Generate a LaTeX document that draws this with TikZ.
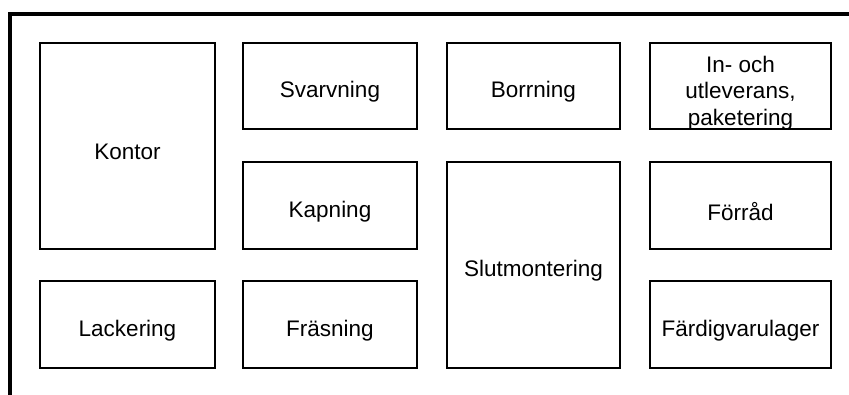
\documentclass[tikz,border=0pt]{standalone}
\usepackage{fontspec}
\setmainfont{Liberation Sans}
\begin{document}
\begin{tikzpicture}[x=1pt,y=-1pt,
  room/.style={draw,line width=1.8pt,inner sep=0pt},
  roomtext/.style={align=center,inner sep=0pt,yshift=-6pt,
    font=\fontsize{22.5}{26.5}\selectfont},
  frame/.style={line width=3.8pt}]
\useasboundingbox (0,0) rectangle (849,395);
% outer wall (top and left)
\draw[frame] (10,395) -- (10,14) -- (849,14);
% rooms: column 1
\node[room,minimum width=175pt,minimum height=206pt,label={[roomtext]center:Kontor}] (kontor) at (127.5,146) {};
\node[room,minimum width=175pt,minimum height=87pt,label={[roomtext]center:Lackering}] (lack) at (127.5,324.5) {};
% column 2
\node[room,minimum width=174pt,minimum height=86pt,label={[roomtext]center:Svarvning}] (svarv) at (330,86) {};
\node[room,minimum width=174pt,minimum height=87pt,label={[roomtext]center:Kapning}] (kap) at (330,205.5) {};
\node[room,minimum width=174pt,minimum height=87pt,label={[roomtext]center:Fräsning}] (fras) at (330,324.5) {};
% column 3
\node[room,minimum width=173pt,minimum height=86pt,label={[roomtext]center:Borrning}] (borr) at (533.5,86) {};
\node[room,minimum width=173pt,minimum height=206pt,label={[roomtext]center:Slutmontering}] (slut) at (533.5,265) {};
% column 4
\node[room,minimum width=181pt,minimum height=86pt,label={[roomtext,yshift=-1pt]center:In- och\\utleverans,\\paketering}] (utlev) at (740.5,86) {};
\node[room,minimum width=181pt,minimum height=87pt,label={[roomtext]center:Förråd}] (forrad) at (740.5,205.5) {};
\node[room,minimum width=181pt,minimum height=87pt,label={[roomtext]center:Färdigvarulager}] (fardig) at (740.5,324.5) {};
\end{tikzpicture}
\end{document}
